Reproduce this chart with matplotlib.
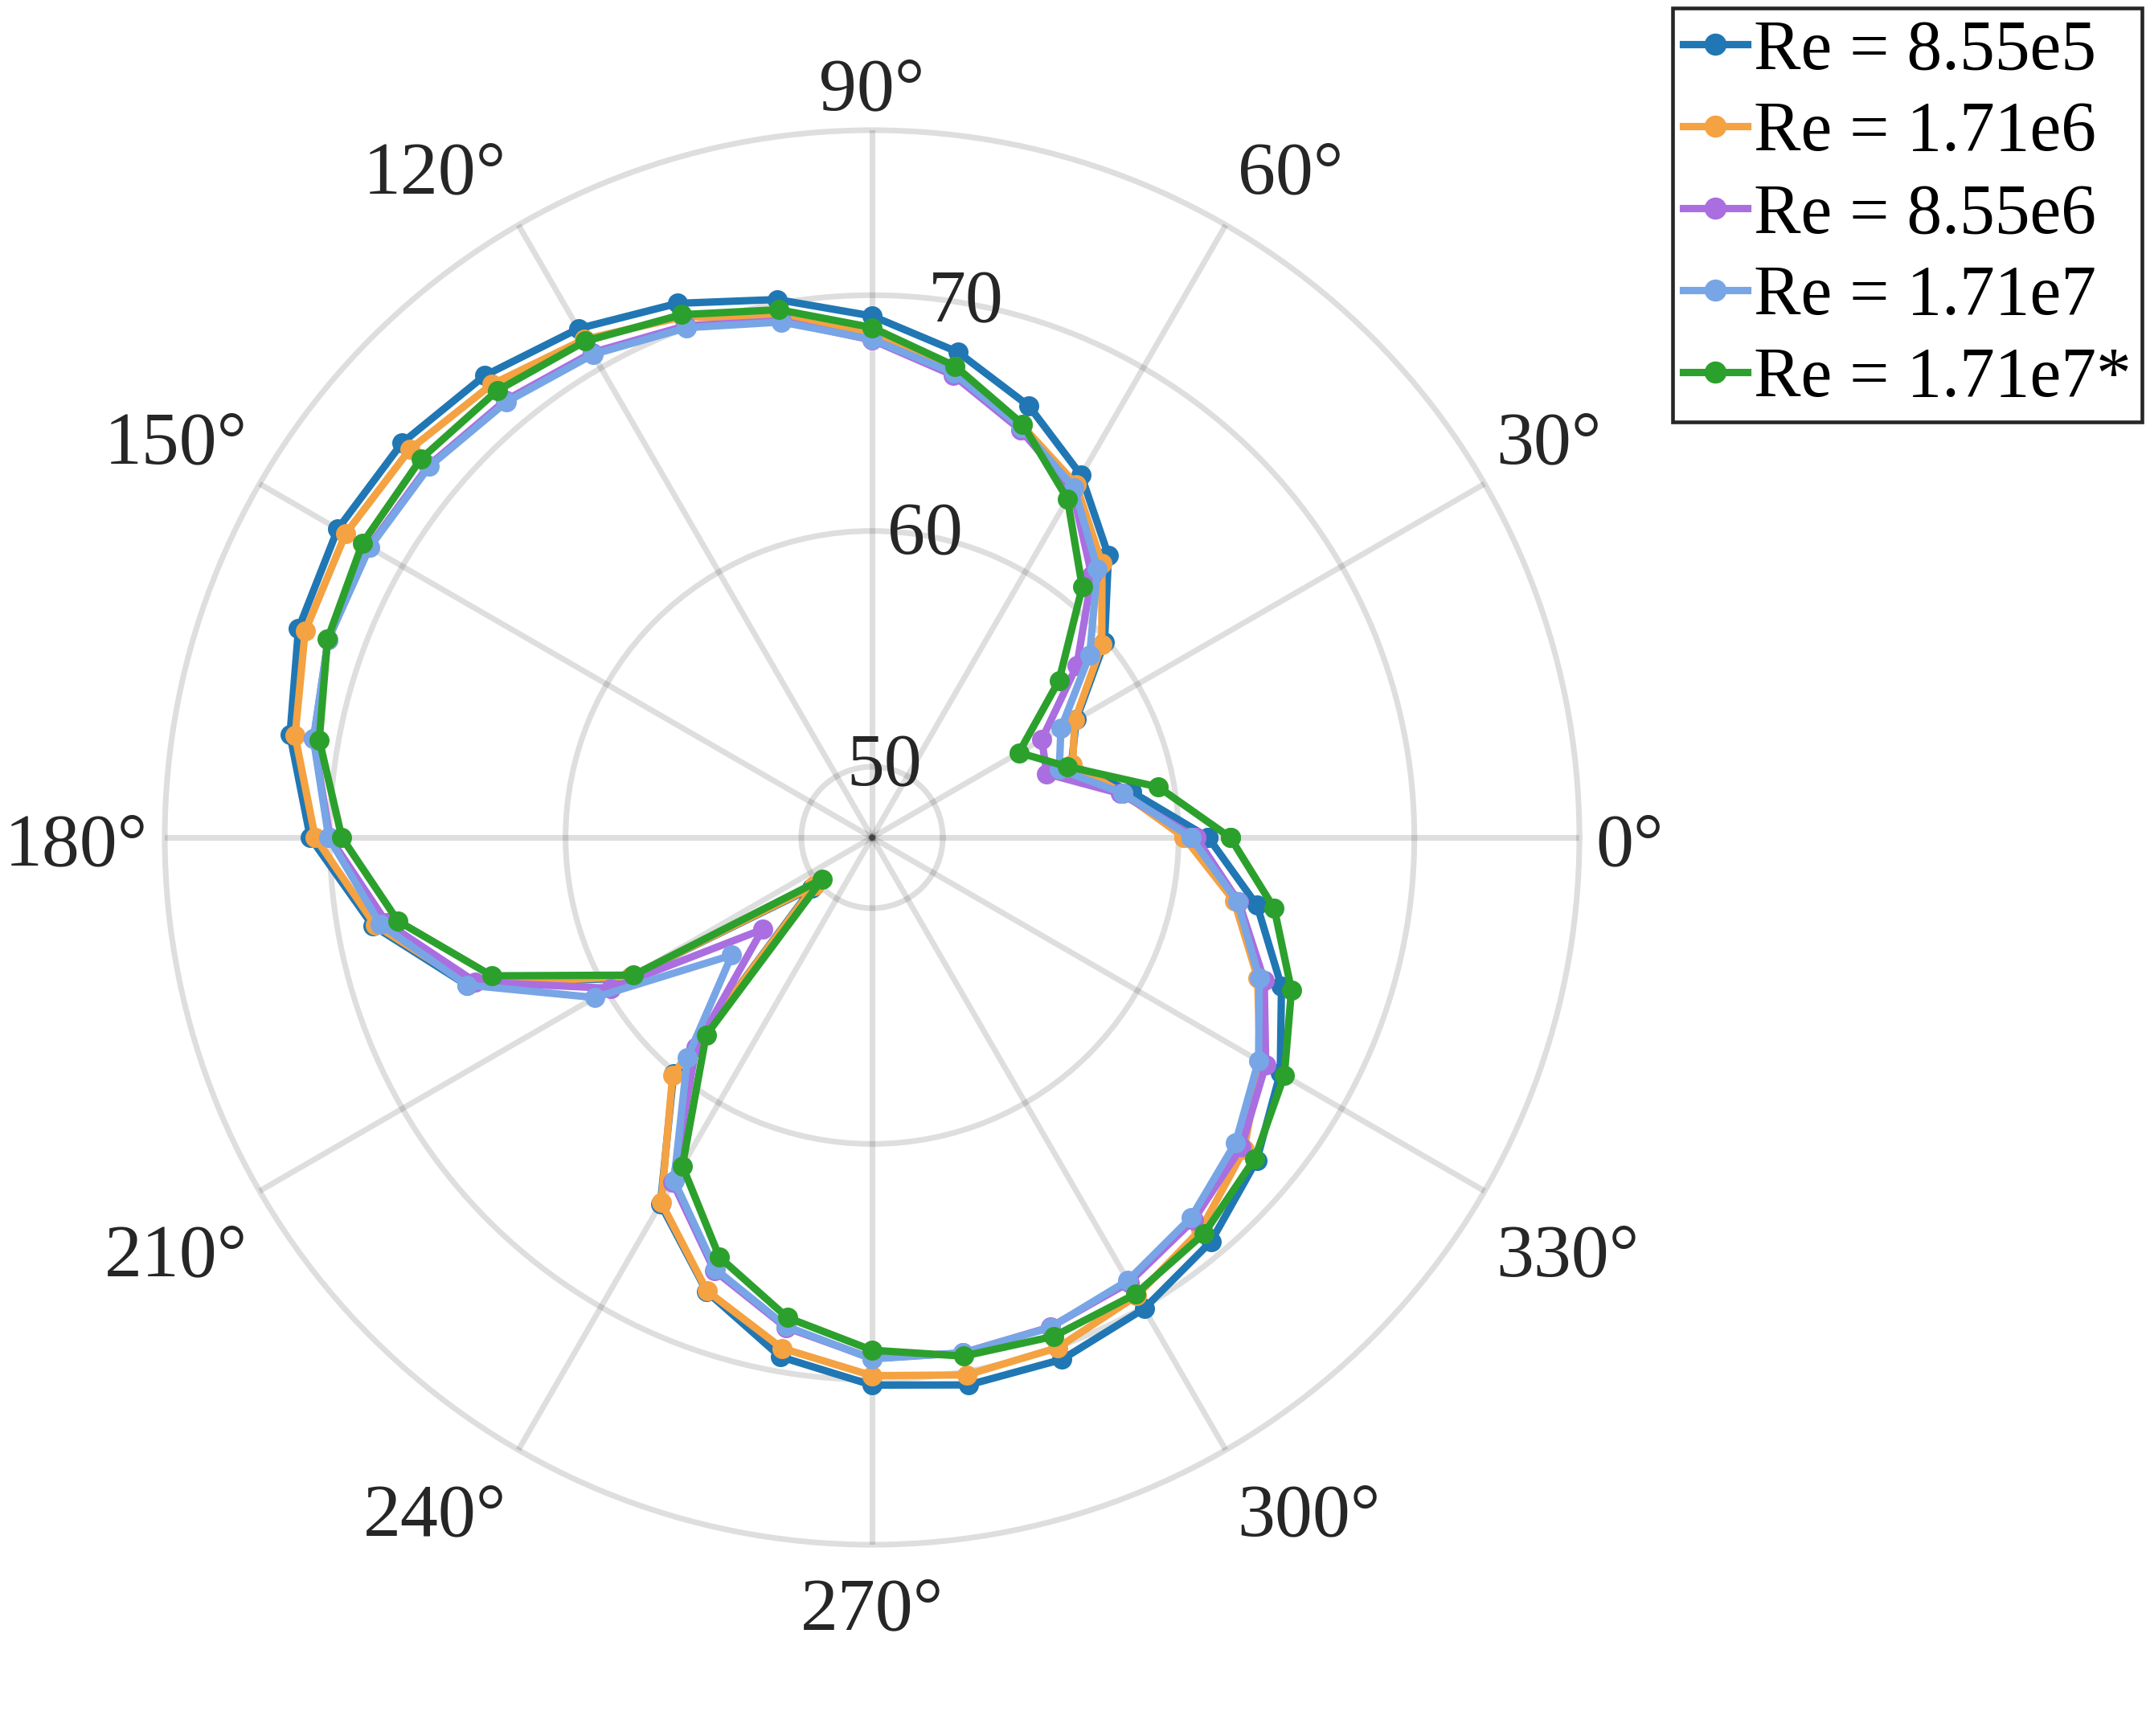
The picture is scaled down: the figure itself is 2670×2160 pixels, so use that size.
import numpy as np
import matplotlib
matplotlib.use("Agg")
import matplotlib.pyplot as plt

# ---------------- data ----------------
angles_deg = list(range(0, 360, 10))

re_8_55e5 = [61.26, 58.17, 56.0, 57.0, 59.87, 62.6, 64.74, 66.47, 67.91, 69.12,
             70.17, 71.11, 71.92, 72.57, 73.03, 73.17, 72.89, 72.07, 70.83, 68.51,
             65.3, 58.9, 50.33, 60.1, 64.95, 67.5, 69.37, 70.23, 70.58, 70.56,
             70.08, 69.37, 68.3, 66.99, 65.48, 63.58]
re_1_71e6 = [60.24, 57.8, 56.05, 56.93, 59.72, 62.17, 64.3, 65.6, 67.3, 68.35,
             69.4, 70.5, 71.4, 72.09, 72.6, 72.78, 72.59, 71.85, 70.62, 68.4,
             65.2, 58.8, 50.2, 60.16, 64.88, 67.47, 69.0, 69.83, 70.15, 70.03,
             69.45, 68.7, 67.6, 66.0, 64.4, 62.6]
re_8_55e6 = [60.74, 57.7, 54.89, 55.31, 58.34, 61.5, 64.0, 65.4, 66.9, 68.1,
             69.25, 70.1, 70.75, 71.2, 71.55, 71.65, 71.55, 71.05, 70.0, 67.9,
             64.91, 59.8, 53.07, 58.62, 63.9, 66.55, 68.1, 69.1, 69.2, 69.1,
             68.8, 68.2, 67.44, 66.28, 64.7, 62.8]
re_1_71e7 = [60.53, 57.8, 55.45, 56.25, 59.05, 61.87, 64.13, 65.5, 67.0, 68.13,
             69.2, 70.01, 70.66, 71.12, 71.5, 71.61, 71.55, 71.06, 70.05, 68.18,
             65.3, 60.58, 54.77, 59.18, 63.8, 66.47, 68.05, 69.12, 69.2, 69.12,
             68.7, 68.05, 67.13, 65.93, 64.48, 62.74]
re_1_71e7_star = [62.19, 59.33, 55.8, 54.19, 57.35, 60.87, 63.58, 65.66, 67.3, 68.63,
                  69.73, 70.6, 71.31, 71.74, 71.98, 71.96, 71.58, 70.81, 69.49, 67.42,
                  64.16, 58.68, 49.74, 57.95, 63.09, 65.94, 67.68, 68.75, 69.34, 69.52,
                  69.36, 68.92, 68.19, 67.19, 65.93, 64.32]

series_labels = ["Re = 8.55e5", "Re = 1.71e6", "Re = 8.55e6", "Re = 1.71e7", "Re = 1.71e7*"]
series_colors = ["#2077b4", "#f4a242", "#aa6ee0", "#78a5e6", "#2ca02c"]

theta_ticks_deg = list(range(0, 360, 30))
r_ticks = [50, 60, 70]
r_limits = (47, 77)
r_label_angle_deg = 80

# ---------------- figure ----------------
plt.rcParams['font.family'] = ['Liberation Serif', 'DejaVu Serif']
DPI = 300
fig = plt.figure(figsize=(2670 / DPI, 2160 / DPI), dpi=DPI)
ax = fig.add_axes([0.07678, 0.11019, 0.65918, 0.81481], projection='polar')

grid_rgba = (0.15, 0.15, 0.15, 0.15)
ax.set_ylim(*r_limits)
ax.set_yticks(r_ticks)
ax.set_yticklabels([])
ax.set_xticks(np.deg2rad(theta_ticks_deg))
ax.set_xticklabels([])
ax.tick_params(length=0)
ax.grid(True, color=grid_rgba[:3], alpha=grid_rgba[3], linewidth=1.7)
ax.spines['polar'].set_edgecolor(grid_rgba)
ax.spines['polar'].set_linewidth(1.7)
ax.set_axisbelow(True)

all_series = [re_8_55e5, re_1_71e6, re_8_55e6, re_1_71e7, re_1_71e7_star]
for vals, lab, col in zip(all_series, series_labels, series_colors):
    th = np.deg2rad(angles_deg + [angles_deg[0]])
    rr = list(vals) + [vals[0]]
    ax.plot(th, rr, '-o', color=col, lw=2.2, ms=6, mew=0, label=lab, zorder=3)

tick_fs = 22.5
tick_color = '#262626'
# radial labels
for v in r_ticks:
    ax.text(np.deg2rad(r_label_angle_deg), v, f"{v}", ha='center', va='center',
            fontsize=tick_fs, color=tick_color, zorder=4)

# angular labels (MATLAB-like placement: box side-anchored outside the circle)
gap_h = 3.5      # pt, horizontal clearance
gap_h_side = 5.0 # pt, clearance for labels on the horizontal axis
gap_v = 8.2      # pt, vertical clearance
shift = 2.0      # pt, downward shift
diag_extra = 3.3 # pt, extra lift for the upper diagonal labels
digit_h = 0.676 * tick_fs
for a in theta_ticks_deg:
    c, s = np.cos(np.deg2rad(a)), np.sin(np.deg2rad(a))
    horiz_gap = gap_h_side if abs(s) < 0.01 else gap_h
    if c > 0.01:
        ha, dx = 'left', horiz_gap
    elif c < -0.01:
        ha, dx = 'right', -horiz_gap
    else:
        ha, dx = 'center', 0.0
    if s > 0.01:
        dy = gap_v - shift + (diag_extra if 0.3 < abs(c) < 0.7 else 0.0)
    elif s < -0.01:
        dy = -(gap_v + shift) - digit_h
    else:
        dy = -0.7 - digit_h / 2
    ax.annotate(f"{a}°", xy=(np.deg2rad(a), r_limits[1]), xycoords='data',
                xytext=(dx, dy), textcoords='offset points', ha=ha, va='baseline',
                fontsize=tick_fs, color=tick_color, annotation_clip=False)

leg = fig.legend(loc='upper left', bbox_to_anchor=(2081 / 2670, 1 - 10 / 2160),
                 bbox_transform=fig.transFigure, fontsize=21, frameon=True,
                 fancybox=False, framealpha=1, edgecolor='#262626',
                 borderaxespad=0, borderpad=0.15, labelspacing=0.24,
                 handlelength=0.915, handletextpad=0.09, markerscale=1.1)
leg.get_frame().set_linewidth(1.1)
for txt in leg.get_texts():
    txt.set_color('black')

fig.savefig("out.png", dpi=DPI)
